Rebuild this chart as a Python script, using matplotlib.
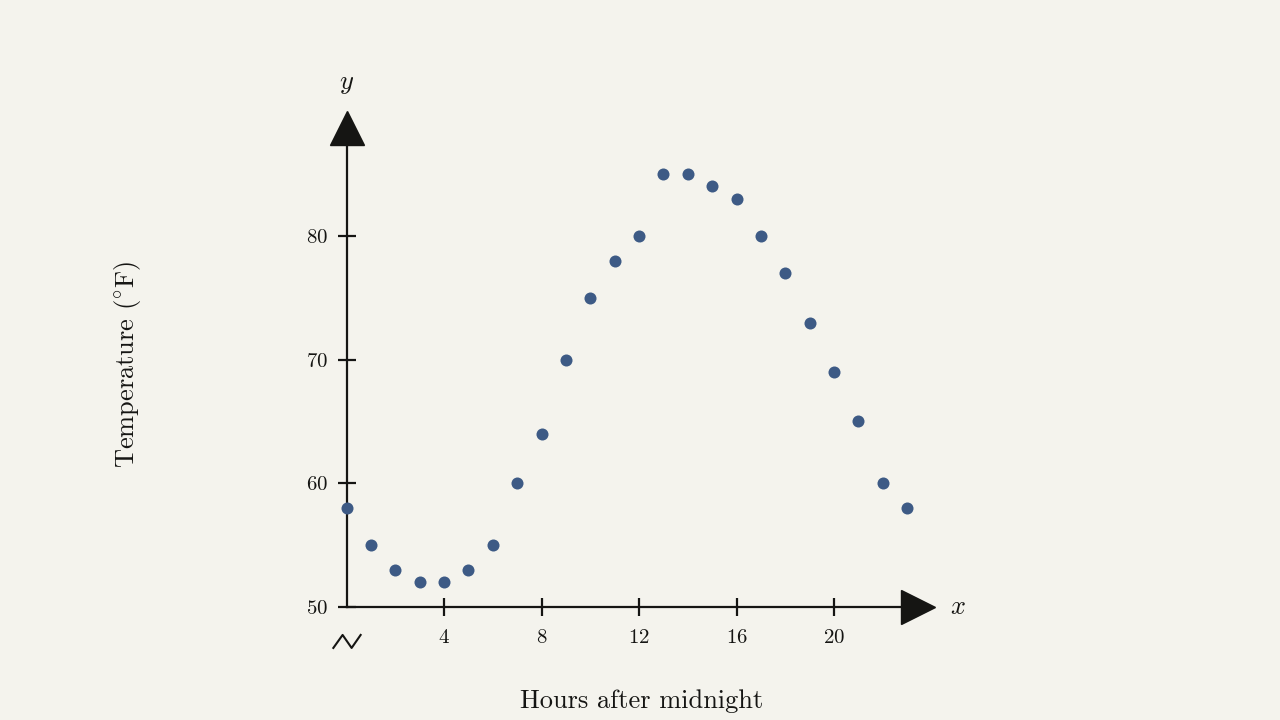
import matplotlib
matplotlib.use("Agg")
import matplotlib.pyplot as plt

# Hourly temperatures
hours = list(range(24))
temps = [58, 55, 53, 52, 52, 53, 55, 60, 64, 70, 75, 78,
         80, 85, 85, 84, 83, 80, 77, 73, 69, 65, 60, 58]

xticks = [4, 8, 12, 16, 20]
yticks = [50, 60, 70, 80]

BG = "#f4f3ed"
DOT = "#3d5a85"
INK = "#151513"

plt.rcParams["font.family"] = ["cmr10", "DejaVu Serif"]
plt.rcParams["mathtext.fontset"] = "cm"
plt.rcParams["axes.formatter.use_mathtext"] = True

fig = plt.figure(figsize=(12.8, 7.2), dpi=100, facecolor=BG)
ax = fig.add_axes([346.5 / 1280, 113 / 720, 589.9 / 1280, 496 / 720])
ax.set_facecolor(BG)

ax.scatter(hours, temps, s=75, color=DOT, zorder=3, clip_on=False, linewidths=0)

ax.set_xlim(0, 24.2)
ax.set_ylim(50, 90.1)

for side in ["top", "right"]:
    ax.spines[side].set_visible(False)
ax.spines["left"].set_bounds(50, 87.4)
ax.spines["bottom"].set_bounds(0, 22.8)
for side in ["left", "bottom"]:
    ax.spines[side].set_color(INK)
    ax.spines[side].set_linewidth(1.6)

# arrow heads
ax.plot([0], [88.75], marker="^", markersize=25, color=INK, clip_on=False, zorder=4)
ax.plot([23.45], [50], marker=">", markersize=25, color=INK, clip_on=False, zorder=4)

ax.set_xticks(xticks)
ax.set_yticks(yticks)
ax.tick_params(direction="inout", length=13, width=1.6, color=INK,
               labelsize=15, labelcolor=INK)
ax.tick_params(axis="x", pad=9)
ax.tick_params(axis="y", pad=7)

# axis break mark
ax.plot([-0.54, -0.16, 0.21, 0.58], [46.69, 47.74, 46.69, 47.74],
        color=INK, lw=1.5, clip_on=False)

ax.text(0, 92.3, "$y$", fontsize=19, ha="center", va="center", color=INK)
ax.text(25.1, 50, "$x$", fontsize=19, ha="center", va="center", color=INK)

ax.set_xlabel("Hours after midnight", fontsize=19, color=INK)
ax.xaxis.set_label_coords(0.5, -0.165)
ax.set_ylabel(r"Temperature ($^{\circ}$F)", fontsize=19, color=INK)
ax.yaxis.set_label_coords(-0.345, 0.49)

fig.savefig("out.png", dpi=100, facecolor=BG)
